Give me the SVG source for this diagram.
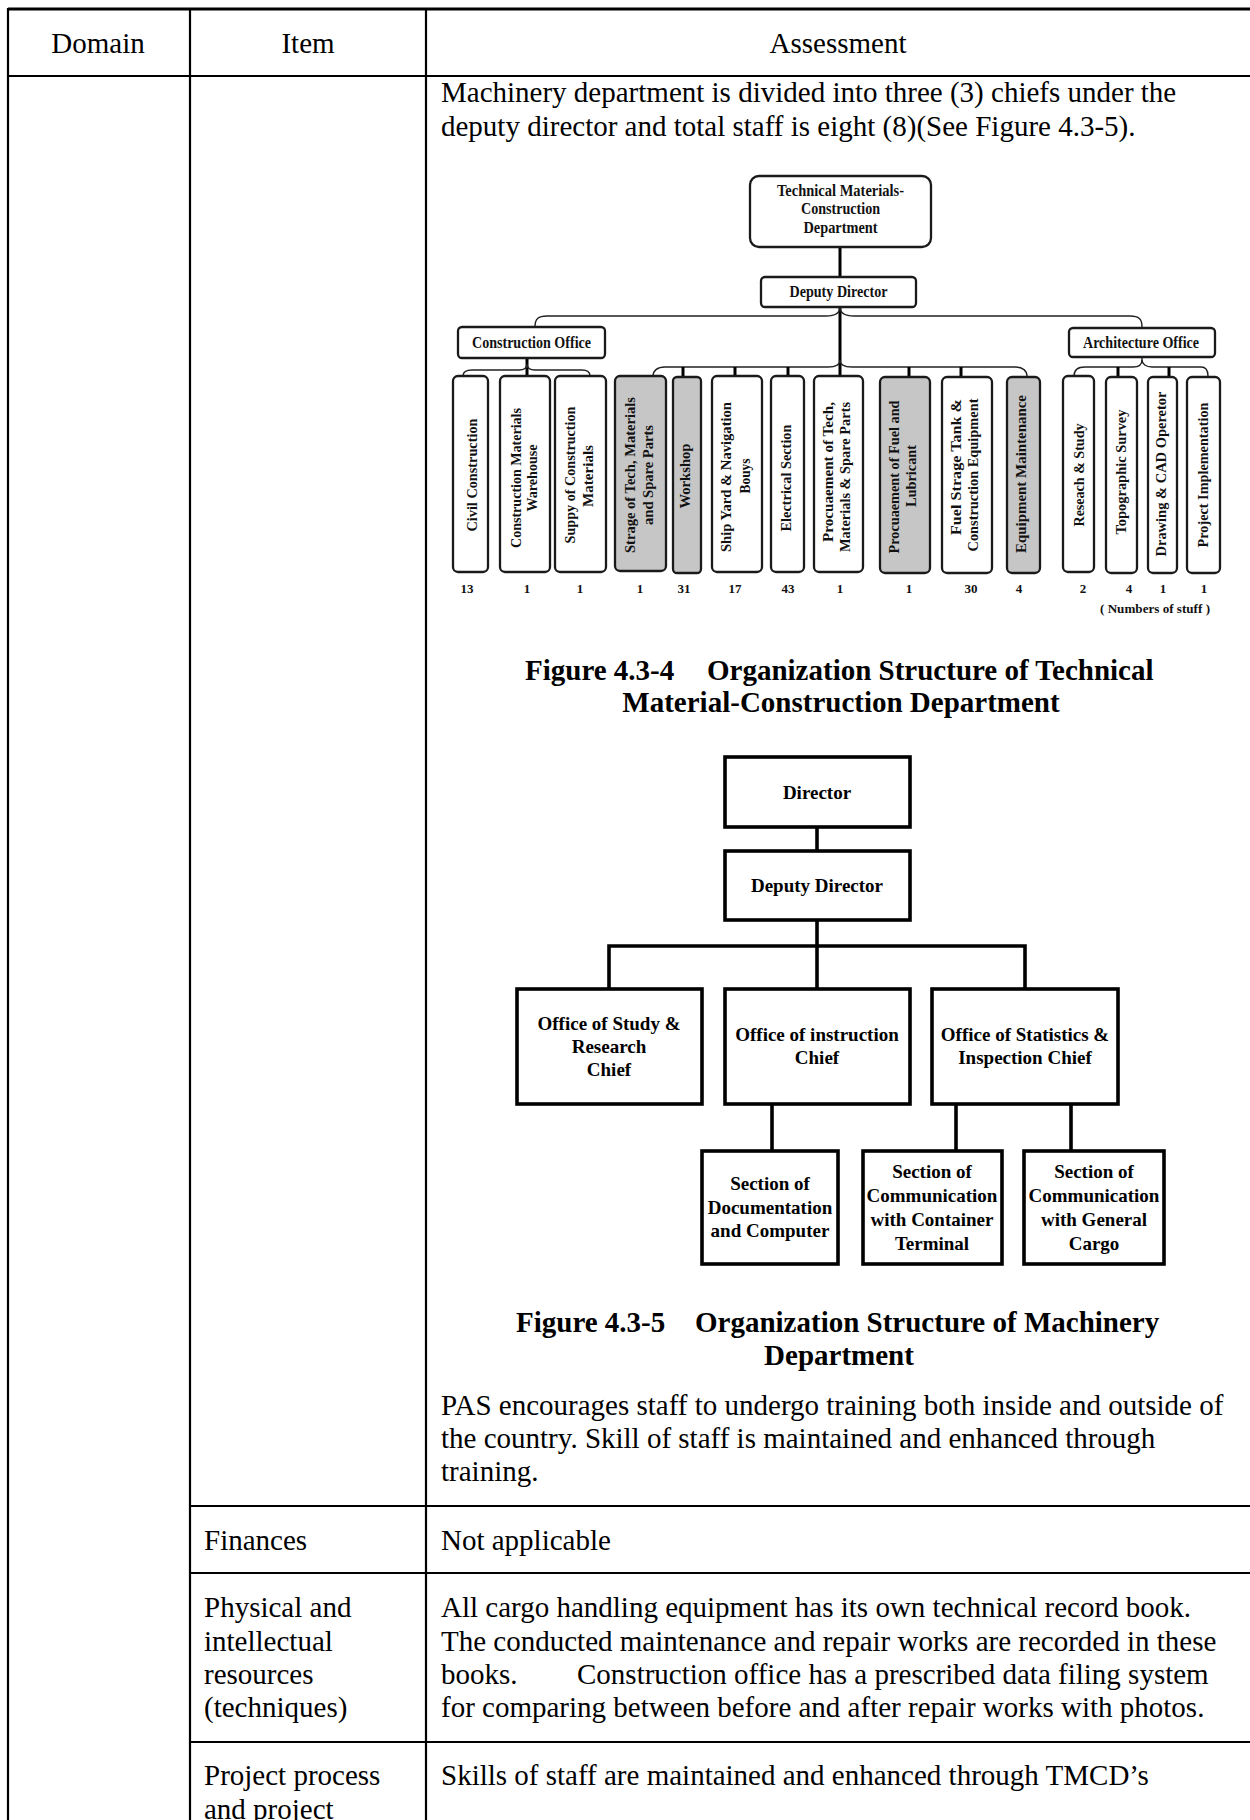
<svg xmlns="http://www.w3.org/2000/svg" width="1250" height="1820" viewBox="0 0 1250 1820">
<style>
.tl{stroke:#000;stroke-width:2.2;fill:none}
.tx{font-family:"Liberation Serif","Times New Roman",serif;font-size:29px;fill:#000}
.cap{font-family:"Liberation Serif","Times New Roman",serif;font-size:29px;font-weight:bold;fill:#000}
.b4{fill:#fff;stroke:#1a1a1a;stroke-width:2.3}
.g4{fill:#c6c6c6;stroke:#1a1a1a;stroke-width:2.3}
.l4{font-family:"Liberation Serif","Times New Roman",serif;font-size:14.3px;font-weight:bold;fill:#111;text-anchor:middle}
.h4{font-family:"Liberation Serif","Times New Roman",serif;font-size:16px;font-weight:bold;fill:#111;text-anchor:middle}
.n4{font-family:"Liberation Serif","Times New Roman",serif;font-size:13px;font-weight:bold;fill:#111;text-anchor:middle}
.thk{stroke:#000;stroke-width:3;fill:none}
.brc{stroke:#222;stroke-width:1.4;fill:none}
.b5{fill:#fff;stroke:#000;stroke-width:3.6}
.c5{stroke:#000;stroke-width:3.6;fill:none}
.t5{font-family:"Liberation Serif","Times New Roman",serif;font-size:19px;font-weight:bold;fill:#000;text-anchor:middle}
</style>

<g id="table">
<line class="tl" x1="8" y1="9" x2="1250" y2="9" style="stroke-width:3"/>
<line class="tl" x1="8" y1="76" x2="1250" y2="76"/>
<line class="tl" x1="8" y1="8" x2="8" y2="1820"/>
<line class="tl" x1="190" y1="9" x2="190" y2="1820"/>
<line class="tl" x1="426" y1="9" x2="426" y2="1820"/>
<line class="tl" x1="190" y1="1506" x2="1250" y2="1506"/>
<line class="tl" x1="190" y1="1573" x2="1250" y2="1573"/>
<line class="tl" x1="190" y1="1742" x2="1250" y2="1742"/>
<text class="tx" x="98" y="53" text-anchor="middle">Domain</text>
<text class="tx" x="308" y="53" text-anchor="middle">Item</text>
<text class="tx" x="838" y="53" text-anchor="middle">Assessment</text>
<text class="tx" x="441" y="102">Machinery department is divided into three (3) chiefs under the</text>
<text class="tx" x="441" y="136">deputy director and total staff is eight (8)(See Figure 4.3-5).</text>
<text class="tx" x="441" y="1415">PAS encourages staff to undergo training both inside and outside of</text>
<text class="tx" x="441" y="1448">the country. Skill of staff is maintained and enhanced through</text>
<text class="tx" x="441" y="1481">training.</text>
<text class="tx" x="204" y="1550">Finances</text>
<text class="tx" x="441" y="1550">Not applicable</text>
<text class="tx" x="204" y="1617">Physical and</text>
<text class="tx" x="204" y="1651">intellectual</text>
<text class="tx" x="204" y="1684">resources</text>
<text class="tx" x="204" y="1717">(techniques)</text>
<text class="tx" x="441" y="1617">All cargo handling equipment has its own technical record book.</text>
<text class="tx" x="441" y="1651">The conducted maintenance and repair works are recorded in these</text>
<text class="tx" x="441" y="1684">books.</text>
<text class="tx" x="577" y="1684">Construction office has a prescribed data filing system</text>
<text class="tx" x="441" y="1717">for comparing between before and after repair works with photos.</text>
<text class="tx" x="204" y="1785">Project process</text>
<text class="tx" x="204" y="1819">and project</text>
<text class="tx" x="441" y="1785">Skills of staff are maintained and enhanced through TMCD’s</text>
</g>

<g id="fig4-connectors">
<line class="thk" x1="840" y1="247" x2="840" y2="277"/>
<line class="thk" x1="840" y1="307" x2="840" y2="377"/>
<path class="brc" d="M535,327 C535,319 538,316 547,316 L826,316 C835,316 840,313 840,307 C840,313 845,316 854,316 L1130,316 C1139,316 1142,319 1142,327"/>
<line class="thk" x1="527" y1="358" x2="527" y2="377"/>
<path class="brc" d="M463,376 C463,372 466,370 472,370 L519,370 C524,370 527,368 527,364 C527,368 530,370 535,370 L582,370 C588,370 590,372 590,376"/>
<path class="brc" d="M653,376 C653,371 657,367 665,367 L828,367 C836,367 840,365 840,360 C840,365 844,367 852,367 L1015,367 C1023,367 1027,371 1027,376"/>
<line class="thk" x1="683" y1="367" x2="683" y2="377"/>
<line class="thk" x1="735" y1="367" x2="735" y2="377"/>
<line class="thk" x1="788" y1="367" x2="788" y2="377"/>
<line class="thk" x1="909" y1="367" x2="909" y2="377"/>
<line class="thk" x1="961" y1="367" x2="961" y2="377"/>
<line class="brc" x1="1142" y1="357" x2="1142" y2="361"/>
<path class="brc" d="M1074,376 C1074,370 1078,367 1085,367 L1133,367 C1139,367 1142,364 1142,360 C1142,364 1146,367 1152,367 L1201,367 C1206,367 1208,370 1208,376"/>
<line class="thk" x1="1118" y1="367" x2="1118" y2="377"/>
<line class="thk" x1="1169" y1="367" x2="1169" y2="377"/>
</g>

<g id="n-tmcd"><rect class="b4" x="750" y="176" width="181" height="71" rx="9"/>
<text class="h4" x="840.5" y="196" textLength="127" lengthAdjust="spacingAndGlyphs">Technical Materials-</text>
<text class="h4" x="840.5" y="214" textLength="79" lengthAdjust="spacingAndGlyphs">Construction</text>
<text class="h4" x="840.5" y="233" textLength="74" lengthAdjust="spacingAndGlyphs">Department</text></g>
<g id="n-deputy4"><rect class="b4" x="761" y="277" width="155" height="30" rx="4"/>
<text class="h4" x="838.5" y="297" textLength="98" lengthAdjust="spacingAndGlyphs">Deputy Director</text></g>
<g id="n-constoffice"><rect class="b4" x="458" y="327" width="147" height="31" rx="4"/>
<text class="h4" x="531.5" y="348" textLength="119" lengthAdjust="spacingAndGlyphs">Construction Office</text></g>
<g id="n-archoffice"><rect class="b4" x="1069" y="328" width="146" height="29" rx="4"/>
<text class="h4" x="1141" y="348" textLength="116" lengthAdjust="spacingAndGlyphs">Architecture Office</text></g>

<g id="n-civil"><rect class="b4" x="453" y="376" width="35" height="196" rx="5"/>
<text class="l4" transform="translate(477,475) rotate(-90)" textLength="113" lengthAdjust="spacingAndGlyphs">Civil Construction</text></g>
<g id="n-cmw"><rect class="b4" x="500" y="376" width="50" height="196" rx="5"/>
<text class="l4" transform="translate(521,478) rotate(-90)" textLength="140" lengthAdjust="spacingAndGlyphs">Construction Materials</text>
<text class="l4" transform="translate(537,478) rotate(-90)" textLength="67" lengthAdjust="spacingAndGlyphs">Warehouse</text></g>
<g id="n-supply"><rect class="b4" x="555" y="376" width="51" height="196" rx="5"/>
<text class="l4" transform="translate(574.5,475) rotate(-90)" textLength="137" lengthAdjust="spacingAndGlyphs">Suppy of Construction</text>
<text class="l4" transform="translate(593,476) rotate(-90)" textLength="62" lengthAdjust="spacingAndGlyphs">Materials</text></g>
<g id="n-strage"><rect class="g4" x="615" y="376" width="51" height="195" rx="5"/>
<text class="l4" transform="translate(634.5,475) rotate(-90)" textLength="156" lengthAdjust="spacingAndGlyphs">Strage of Tech, Materials</text>
<text class="l4" transform="translate(653,475) rotate(-90)" textLength="100" lengthAdjust="spacingAndGlyphs">and Spare Parts</text></g>
<g id="n-workshop"><rect class="g4" x="673" y="377" width="28" height="196" rx="4"/>
<text class="l4" transform="translate(690,476) rotate(-90)" textLength="65" lengthAdjust="spacingAndGlyphs">Workshop</text></g>
<g id="n-shipyard"><rect class="b4" x="712" y="376" width="50" height="196" rx="5"/>
<text class="l4" transform="translate(731,477) rotate(-90)" textLength="150" lengthAdjust="spacingAndGlyphs">Ship Yard &amp; Navigation</text>
<text class="l4" transform="translate(749.5,476) rotate(-90)" textLength="35" lengthAdjust="spacingAndGlyphs">Bouys</text></g>
<g id="n-electrical"><rect class="b4" x="771" y="376" width="33" height="196" rx="5"/>
<text class="l4" transform="translate(791,478) rotate(-90)" textLength="107" lengthAdjust="spacingAndGlyphs">Electrical Section</text></g>
<g id="n-proctech"><rect class="b4" x="814" y="376" width="49" height="196" rx="5"/>
<text class="l4" transform="translate(833,472) rotate(-90)" textLength="140" lengthAdjust="spacingAndGlyphs">Procuaement of Tech,</text>
<text class="l4" transform="translate(849.5,477) rotate(-90)" textLength="150" lengthAdjust="spacingAndGlyphs">Materials &amp; Spare Parts</text></g>
<g id="n-procfuel"><rect class="g4" x="880" y="377" width="50" height="196" rx="5"/>
<text class="l4" transform="translate(899,477) rotate(-90)" textLength="153" lengthAdjust="spacingAndGlyphs">Procuaement of Fuel and</text>
<text class="l4" transform="translate(916,476) rotate(-90)" textLength="62" lengthAdjust="spacingAndGlyphs">Lubricant</text></g>
<g id="n-fueltank"><rect class="b4" x="942" y="377" width="50" height="196" rx="5"/>
<text class="l4" transform="translate(961,467) rotate(-90)" textLength="136" lengthAdjust="spacingAndGlyphs">Fuel Strage Tank &amp;</text>
<text class="l4" transform="translate(978,475) rotate(-90)" textLength="153" lengthAdjust="spacingAndGlyphs">Construction Equipment</text></g>
<g id="n-equip"><rect class="g4" x="1007" y="377" width="33" height="196" rx="5"/>
<text class="l4" transform="translate(1026,474) rotate(-90)" textLength="158" lengthAdjust="spacingAndGlyphs">Equipment Maintenance</text></g>
<g id="n-research"><rect class="b4" x="1063" y="376" width="31" height="196" rx="5"/>
<text class="l4" transform="translate(1083.5,475) rotate(-90)" textLength="103" lengthAdjust="spacingAndGlyphs">Reseach &amp; Study</text></g>
<g id="n-topo"><rect class="b4" x="1106" y="377" width="31" height="196" rx="5"/>
<text class="l4" transform="translate(1126,472) rotate(-90)" textLength="125" lengthAdjust="spacingAndGlyphs">Topographic Survey</text></g>
<g id="n-cad"><rect class="b4" x="1148" y="377" width="29" height="196" rx="5"/>
<text class="l4" transform="translate(1166,474) rotate(-90)" textLength="165" lengthAdjust="spacingAndGlyphs">Drawing &amp; CAD Operetor</text></g>
<g id="n-project"><rect class="b4" x="1187" y="377" width="33" height="196" rx="5"/>
<text class="l4" transform="translate(1208,475) rotate(-90)" textLength="145" lengthAdjust="spacingAndGlyphs">Project Implementation</text></g>

<g id="fig4-numbers">
<text class="n4" x="467" y="593">13</text>
<text class="n4" x="527" y="593">1</text>
<text class="n4" x="580" y="593">1</text>
<text class="n4" x="640" y="593">1</text>
<text class="n4" x="684" y="593">31</text>
<text class="n4" x="735" y="593">17</text>
<text class="n4" x="788" y="593">43</text>
<text class="n4" x="840" y="593">1</text>
<text class="n4" x="909" y="593">1</text>
<text class="n4" x="971" y="593">30</text>
<text class="n4" x="1019" y="593">4</text>
<text class="n4" x="1083" y="593">2</text>
<text class="n4" x="1129" y="593">4</text>
<text class="n4" x="1163" y="593">1</text>
<text class="n4" x="1204" y="593">1</text>
<text class="n4" x="1155" y="613" textLength="110" lengthAdjust="spacingAndGlyphs">( Numbers of stuff )</text>
</g>

<g id="caption4">
<text class="cap" x="525" y="680">Figure 4.3-4</text>
<text class="cap" x="707" y="680">Organization Structure of Technical</text>
<text class="cap" x="841" y="712" text-anchor="middle">Material-Construction Department</text>
</g>

<g id="fig5-connectors">
<line class="c5" x1="817" y1="827" x2="817" y2="851"/>
<polyline class="c5" points="817,920 817,946"/>
<polyline class="c5" points="609,989 609,946 1025,946 1025,989"/>
<line class="c5" x1="817" y1="946" x2="817" y2="989"/>
<line class="c5" x1="772" y1="1104" x2="772" y2="1151"/>
<line class="c5" x1="956" y1="1104" x2="956" y2="1151"/>
<line class="c5" x1="1071" y1="1104" x2="1071" y2="1151"/>
</g>
<g id="n-director"><rect class="b5" x="725" y="757" width="185" height="70"/>
<text class="t5" x="817" y="799">Director</text></g>
<g id="n-deputy5"><rect class="b5" x="725" y="851" width="185" height="69"/>
<text class="t5" x="817" y="892">Deputy Director</text></g>
<g id="n-study"><rect class="b5" x="517" y="989" width="185" height="115"/>
<text class="t5" x="609" y="1030">Office of Study &amp;</text>
<text class="t5" x="609" y="1053">Research</text>
<text class="t5" x="609" y="1076">Chief</text></g>
<g id="n-instruction"><rect class="b5" x="725" y="989" width="185" height="115"/>
<text class="t5" x="817" y="1041">Office of instruction</text>
<text class="t5" x="817" y="1064">Chief</text></g>
<g id="n-statistics"><rect class="b5" x="932" y="989" width="186" height="115"/>
<text class="t5" x="1025" y="1041">Office of Statistics &amp;</text>
<text class="t5" x="1025" y="1064">Inspection Chief</text></g>
<g id="n-doc"><rect class="b5" x="702" y="1151" width="136" height="113"/>
<text class="t5" x="770" y="1190">Section of</text>
<text class="t5" x="770" y="1214">Documentation</text>
<text class="t5" x="770" y="1237">and Computer</text></g>
<g id="n-container"><rect class="b5" x="863" y="1151" width="139" height="113"/>
<text class="t5" x="932" y="1178">Section of</text>
<text class="t5" x="932" y="1202">Communication</text>
<text class="t5" x="932" y="1226">with Container</text>
<text class="t5" x="932" y="1250">Terminal</text></g>
<g id="n-cargo"><rect class="b5" x="1024" y="1151" width="140" height="113"/>
<text class="t5" x="1094" y="1178">Section of</text>
<text class="t5" x="1094" y="1202">Communication</text>
<text class="t5" x="1094" y="1226">with General</text>
<text class="t5" x="1094" y="1250">Cargo</text></g>

<g id="caption5">
<text class="cap" x="516" y="1332">Figure 4.3-5</text>
<text class="cap" x="695" y="1332">Organization Structure of Machinery</text>
<text class="cap" x="839" y="1365" text-anchor="middle">Department</text>
</g>
</svg>
